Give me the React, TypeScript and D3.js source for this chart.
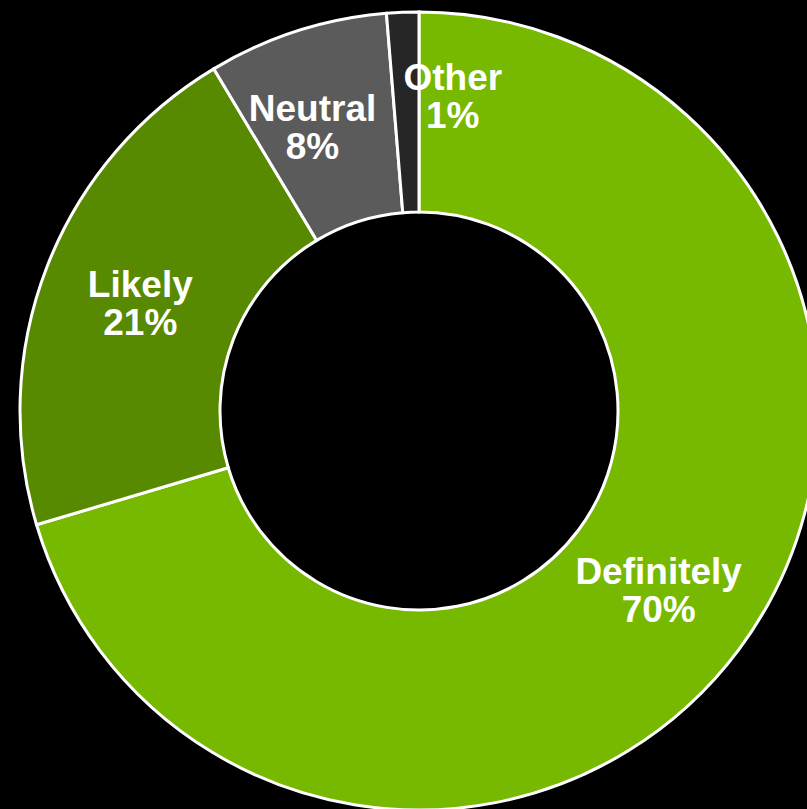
import React from "react";
import * as d3 from "d3";

const categories = ["Definitely", "Likely", "Neutral", "Other"];
const values = [70.4, 21.0, 7.3, 1.3];
const labels = ["70%", "21%", "8%", "1%"];
const colors = ["#76b900", "#578a00", "#5b5b5b", "#262626"];
const labelNudge = [
  [0, 0],
  [0, 0],
  [-15, 0],
  [46, -17],
];

const W = 807;
const H = 809;
const cx = 419;
const cy = 411;
const outerR = 399;
const innerR = 199;

export default function App() {
  const pie = d3
    .pie<number>()
    .sort(null)
    .value((d) => d)
    .startAngle(0)
    .endAngle(2 * Math.PI);
  const arcs = pie(values);
  const arcGen = d3
    .arc<d3.PieArcDatum<number>>()
    .innerRadius(innerR)
    .outerRadius(outerR);

  const fontSize = 37;
  const lineH = 38;

  return (
    <svg
      width={W}
      height={H}
      style={{ position: "absolute", left: 0, top: 0, background: "#000" }}
    >
      <rect x={0} y={0} width={W} height={H} fill="#000" />
      <g transform={`translate(${cx},${cy})`}>
        {arcs.map((a, i) => (
          <path
            key={categories[i]}
            d={arcGen(a) || ""}
            fill={colors[i]}
            stroke="#fff"
            strokeWidth={3}
            strokeLinejoin="miter"
          />
        ))}
        {arcs.map((a, i) => {
          const [x, y] = arcGen.centroid(a);
          const tx = x + labelNudge[i][0];
          const ty = y + labelNudge[i][1];
          return (
            <text
              key={"l" + i}
              x={tx}
              y={ty}
              textAnchor="middle"
              fill="#fff"
              fontFamily="'Liberation Sans', Arial, sans-serif"
              fontWeight="bold"
              fontSize={fontSize}
            >
              <tspan x={tx} dy={-lineH / 2 + fontSize * 0.36}>
                {categories[i]}
              </tspan>
              <tspan x={tx} dy={lineH}>
                {labels[i]}
              </tspan>
            </text>
          );
        })}
      </g>
    </svg>
  );
}
